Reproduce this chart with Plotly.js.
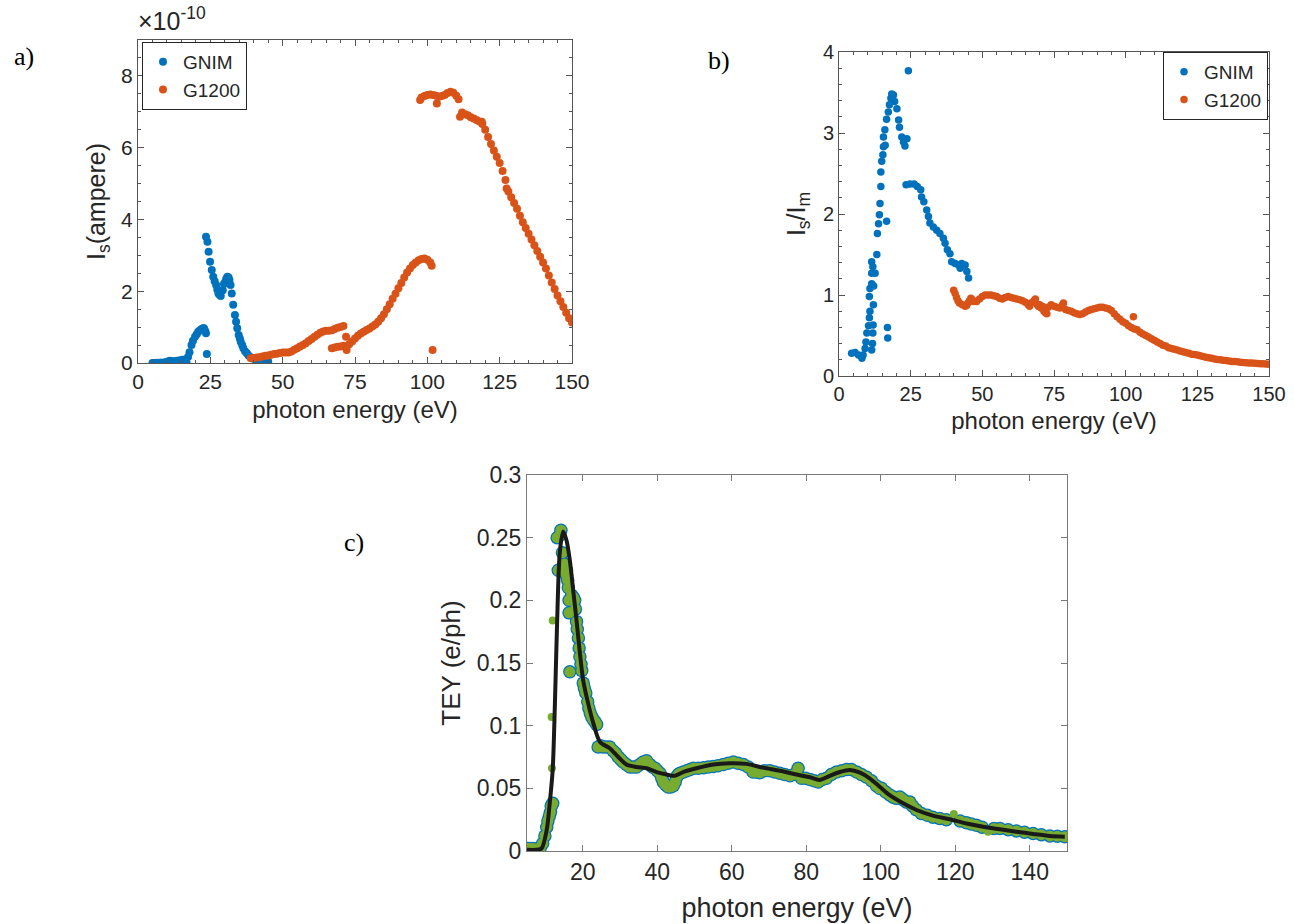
<!DOCTYPE html>
<html><head><meta charset="utf-8">
<script src="https://cdn.plot.ly/plotly-3.0.1.min.js"></script>
<style>html,body{margin:0;padding:0;background:#fff;} #chart{width:1294px;height:924px;}</style>
</head><body><div id="chart"></div>
<script>
// ---------- Panel a: I_s (x 1e-10 A) vs photon energy ----------
const a_gnim_x = [5,5.5,6,6.5,7,7.5,8,8.5,9,9.5,10,10.5,11,11.5,12,12.5,13,13.5,14,14.5,15,15.5,16,16.5,16.8,
  17.3,17.8,18.5,19,19.7,20.3,20.8,21.4,22,22.5,22.8,23.2,23.5,23.8,
  23.5,24,24.4,24.9,25.5,26,26.5,27,27.4,27.8,28.2,28.6,29.3,29.7,30.1,30.5,30.9,31.3,31.6,32,32.4,32.9,
  33.5,33.9,34.3,34.8,35.2,35.5,36,36.4,37,37.6,38.2,38.9,39.6,40.4,41.2,42.2,43,43.9,45];
const a_gnim_y = [0.0,0.0,0.0,0.01,0.0,0.01,0.01,0.01,0.01,0.02,0.03,0.04,0.06,0.05,0.04,0.04,0.05,0.06,0.06,0.07,0.08,0.09,0.09,0.06,0.0,
  0.17,0.3,0.5,0.62,0.73,0.8,0.87,0.91,0.95,0.97,0.97,0.9,0.83,0.25,
  3.52,3.38,3.1,2.82,2.59,2.4,2.28,2.17,2.05,1.94,1.9,1.87,2.03,2.2,2.26,2.35,2.4,2.38,2.31,2.17,1.94,1.62,
  1.34,1.15,0.97,0.78,0.68,0.59,0.5,0.41,0.33,0.27,0.21,0.16,0.13,0.1,0.08,0.06,0.05,0.04,0.04];

const a_g1200_x = [39,40,41,42,43,44,45,46,47,48,49,50,51,52,53,54,55,56,57,58,59,60,61,62,63,64,65,66,67,68,69,70,71,
  67,68,69,70,71,71.9,72.1,73,74,75,76,77,78,79,80,81,82,83,84,85,86,87,88,89,90,91,92,93,94,95,96,97,98,99,100,101,101.5,
  101.8,
  97.5,98,99,100,101,102,103,103.3,104,105,106,107,108,109,110,110.8,111.3,112,113,114,115,116,117,118,118.8,119,120,121,122,123,124,125,126,127,127.4,128,129,130,131,132,133,134,135,136,137,138,139,140,141,142,143,144,145,146,147,148,149,150];
const a_g1200_y = [0.13,0.14,0.15,0.16,0.18,0.2,0.21,0.23,0.25,0.26,0.28,0.29,0.29,0.29,0.32,0.37,0.41,0.46,0.5,0.55,0.61,0.67,0.73,0.79,0.84,0.88,0.9,0.9,0.91,0.95,0.98,1.0,1.03,
  0.41,0.43,0.45,0.46,0.48,0.73,0.36,0.52,0.6,0.68,0.76,0.82,0.87,0.92,0.96,1.02,1.07,1.15,1.25,1.36,1.5,1.64,1.79,1.93,2.08,2.23,2.38,2.52,2.63,2.73,2.8,2.86,2.9,2.91,2.88,2.8,2.71,
  0.36,
  7.33,7.4,7.44,7.47,7.48,7.47,7.45,7.23,7.42,7.44,7.47,7.52,7.56,7.53,7.45,7.35,6.86,6.98,6.93,6.9,6.85,6.81,6.77,6.73,6.72,6.66,6.5,6.3,6.1,5.92,5.75,5.57,5.35,5.1,4.86,4.78,4.62,4.46,4.3,4.1,3.92,3.76,3.6,3.44,3.28,3.12,2.96,2.8,2.63,2.44,2.24,2.06,1.88,1.72,1.56,1.4,1.25,1.13];

// ---------- Panel b: I_s / I_m ----------
const b_gnim_x = [4.4,5.6,6.8,8,8.4,9.1,9.4,9.7,10.3,10.6,10.8,11.4,11.7,11.8,11.9,12,10.6,10.8,11.4,11.4,11.8,11.4,12.1,12.6,
  13.2,13.4,13.8,14.1,14.3,14.6,14.6,14.9,15.3,15.5,16.1,15.5,16,16.6,17.2,17.6,18.1,18.4,19,19.4,20.2,20.8,21.1,21.9,22.5,23,23.7,
  16.6,16.9,17,24.2,
  23.4,24.8,26.2,27.3,28.5,28.8,29.6,30.6,31.2,31.7,32.9,34.1,35.2,36.4,37,37.8,38.7,39.3,40.5,41.7,42.3,42.8,44,44.6,45.2];
const b_gnim_y = [0.28,0.29,0.26,0.22,0.26,0.34,0.42,0.53,0.62,0.72,0.8,0.32,0.4,0.53,0.63,0.88,0.98,1.08,1.14,1.27,1.35,1.41,1.11,1.27,
  1.5,1.76,1.88,1.99,2.13,2.34,2.52,2.65,2.73,2.83,2.85,2.95,3.04,3.17,3.26,3.35,3.43,3.48,3.47,3.39,3.3,3.16,3.07,2.95,2.89,2.84,2.93,
  1.91,0.6,0.47,3.77,
  2.36,2.37,2.37,2.34,2.3,2.21,2.15,2.05,1.97,1.89,1.84,1.8,1.76,1.7,1.64,1.56,1.51,1.41,1.39,1.37,1.33,1.39,1.37,1.29,1.21];

const b_g1200_x = [40,40.5,41,41.5,42,43,44,44.5,45,45.5,46,46.5,47,48,49,50,51,52,53,54,55,56,57,58,59,60,61,62,63,64,65,66,66.5,67,68,68.5,69,69.5,70,70.5,71,71.5,72,72.5,73,74,75,76,77,78,78.3,79,80,81,82,83,84,85,86,87,88,89,90,91,92,93,94,95,96,97,98,99,100,101,102,102.7,103,104,105,106,107,108,109,110,111,112,113,114,115,116,117,118,119,120,121,122,123,124,125,126,127,128,129,130,131,132,133,134,135,136,137,138,139,140,141,142,143,144,145,146,147,148,149,150];
const b_g1200_y = [1.06,1.02,0.97,0.93,0.9,0.88,0.86,0.87,0.9,0.93,0.96,0.94,0.92,0.92,0.95,0.98,1.0,1.0,1.0,0.99,0.98,0.96,0.95,0.97,0.98,0.97,0.96,0.95,0.94,0.93,0.91,0.88,0.86,0.9,0.93,0.95,0.89,0.86,0.88,0.84,0.86,0.8,0.78,0.77,0.85,0.88,0.86,0.85,0.84,0.88,0.9,0.82,0.81,0.8,0.78,0.77,0.76,0.77,0.79,0.81,0.82,0.83,0.84,0.85,0.85,0.84,0.83,0.81,0.77,0.73,0.7,0.67,0.65,0.62,0.6,0.73,0.58,0.57,0.54,0.52,0.5,0.48,0.46,0.44,0.42,0.4,0.38,0.37,0.35,0.34,0.33,0.32,0.31,0.3,0.29,0.28,0.27,0.265,0.26,0.25,0.24,0.23,0.225,0.22,0.21,0.205,0.2,0.195,0.19,0.185,0.18,0.18,0.175,0.17,0.168,0.165,0.162,0.16,0.158,0.155,0.152,0.15,0.148,0.146];

// ---------- Panel c: TEY (e/ph) ----------
const c_x = [4.4,5.2,5.8,6.5,7.2,7.9,8.5,9.2,9.8,10.3,10.6,11.0,11.3,11.5,11.9,13.1,13.4,13.8,14.1,14.5,14.7,15.0,15.3,15.6,15.6,15.9,16.1,16.3,16.3,16.5,17.0,17.5,17.8,18.0,18.3,18.5,18.8,19.0,19.2,19.5,19.7,20.1,20.4,20.8,21.3,21.6,22.0,22.4,22.8,23.3,23.7,
  24.1,24.7,25.4,26.3,27.2,28.1,28.8,29.5,30.2,30.8,31.7,32.6,33.5,34.4,35.3,36.2,37.1,38.0,38.7,39.4,40.0,40.7,41.2,41.6,42.2,42.9,43.6,44.3,44.8,45.2,45.6,46.1,47.0,47.9,48.8,49.7,51.0,52.4,53.7,55.0,56.3,57.7,59.0,60.4,61.7,63.1,64.4,65.7,66.6,67.5,68.8,70.2,71.5,72.9,74.2,75.6,76.7,77.8,78.7,79.8,81.0,82.1,83.2,84.3,85.4,86.7,88.1,89.5,90.8,92.1,93.5,94.8,96.1,97.5,98.8,99.7,100.2,101.3,102.4,103.3,104.2,105.1,106.0,106.9,107.8,108.5,109.5,110.9,112.5,114.0,115.8,117.6,121.3,123.0,124.3,125.7,127.2,130.4,132.0,134.2,136.4,138.6,140.9,143.1,145.4,147.4,149.4];
const c_y = [0.002,0.002,0.002,0.002,0.001,0.002,0.002,0.006,0.012,0.019,0.024,0.028,0.031,0.036,0.038,0.25,0.224,0.252,0.256,0.238,0.227,0.229,0.226,0.224,0.22,0.216,0.21,0.2,0.19,0.143,0.204,0.202,0.2,0.193,0.183,0.177,0.17,0.162,0.155,0.149,0.144,0.134,0.13,0.126,0.119,0.114,0.11,0.107,0.105,0.103,0.101,
  0.083,0.084,0.083,0.083,0.083,0.08,0.078,0.075,0.073,0.071,0.069,0.067,0.067,0.067,0.069,0.071,0.072,0.069,0.067,0.066,0.064,0.062,0.058,0.055,0.053,0.051,0.051,0.052,0.055,0.059,0.061,0.062,0.063,0.064,0.065,0.066,0.066,0.0665,0.067,0.0675,0.068,0.069,0.070,0.071,0.070,0.069,0.067,0.063,0.063,0.0625,0.064,0.064,0.063,0.062,0.061,0.060,0.061,0.066,0.058,0.058,0.057,0.056,0.055,0.057,0.058,0.061,0.063,0.064,0.065,0.065,0.063,0.061,0.059,0.056,0.052,0.05,0.05,0.047,0.0447,0.043,0.042,0.043,0.041,0.039,0.039,0.036,0.033,0.030,0.0285,0.027,0.026,0.025,0.024,0.0225,0.0215,0.0205,0.019,0.018,0.018,0.017,0.016,0.015,0.014,0.013,0.012,0.0118,0.0114];
// isolated green points (no blue underlay)
const c_out_x = [11.7,11.6,11.9,119.6,128.8];
const c_out_y = [0.066,0.107,0.184,0.0295,0.0154];

const fit_x = [4.9,7.6,8.9,10.3,11.1,11.9,12.5,13.1,13.8,14.7,15.6,16.5,17.4,18.3,19.2,20.1,21.4,22.8,24.6,27.2,29.5,31.7,34.4,37.1,39.8,42.5,44.7,46.9,50.5,55,59.5,63.9,68.4,72.9,77.4,81,83.6,86.3,89,91.7,94.4,97,99.7,102.4,106,109.6,114,118.5,123,127.5,132,136.4,140.9,145.4,149.4];
const fit_y = [0.001,0.001,0.002,0.017,0.038,0.065,0.118,0.184,0.238,0.255,0.248,0.232,0.208,0.184,0.158,0.136,0.118,0.102,0.087,0.082,0.075,0.069,0.067,0.066,0.063,0.061,0.060,0.063,0.066,0.069,0.07,0.0695,0.0665,0.064,0.061,0.0588,0.0567,0.060,0.063,0.0646,0.0625,0.058,0.0513,0.0445,0.038,0.0327,0.0282,0.0253,0.022,0.0194,0.0173,0.0154,0.0136,0.012,0.0114];

const seriesNames = ['GNIM','G1200'];
const xTitle = 'photon energy (eV)';

// ---------- layout helpers ----------
const W = 1294, H = 924;
const px = v => v / W;
const py = v => 1 - v / H;
const FONT = 'Liberation Sans, Arial, Helvetica, sans-serif';
const INK = '#262626';
const BLUE = '#0072BD', ORANGE = '#D95319', GREEN = '#77AC30';

function ax(extra) {
  return Object.assign({
    showgrid: false, zeroline: false, showline: true, linecolor: '#555', linewidth: 1,
    mirror: 'allticks', ticks: 'inside', ticklen: 6, tickcolor: '#555', tickwidth: 1,
    tickfont: {family: FONT, size: 21, color: INK}, fixedrange: true
  }, extra);
}
const minorT = d => ({dtick: d, ticks: 'inside', ticklen: 3, tickcolor: '#555', tickwidth: 1});
const mk = (c, s) => ({color: c, size: s});

const data = [
  {type: 'scatter', mode: 'markers', name: seriesNames[0], x: a_gnim_x, y: a_gnim_y, xaxis: 'x', yaxis: 'y', marker: mk(BLUE, 8), legend: 'legend'},
  {type: 'scatter', mode: 'markers', name: seriesNames[1], x: a_g1200_x, y: a_g1200_y, xaxis: 'x', yaxis: 'y', marker: mk(ORANGE, 8), legend: 'legend'},
  {type: 'scatter', mode: 'markers', name: seriesNames[0], x: b_gnim_x, y: b_gnim_y, xaxis: 'x2', yaxis: 'y2', marker: mk(BLUE, 7.5), legend: 'legend2'},
  {type: 'scatter', mode: 'markers', name: seriesNames[1], x: b_g1200_x, y: b_g1200_y, xaxis: 'x2', yaxis: 'y2', marker: mk(ORANGE, 7.5), legend: 'legend2'},
  {type: 'scatter', mode: 'markers', name: 'TEY data (outline)', x: c_x, y: c_y, xaxis: 'x3', yaxis: 'y3', showlegend: false,
   marker: {color: BLUE, size: 13.5}},
  {type: 'scatter', mode: 'markers', name: 'TEY data', x: c_x, y: c_y, xaxis: 'x3', yaxis: 'y3', showlegend: false,
   marker: {color: GREEN, size: 11}},
  {type: 'scatter', mode: 'markers', name: 'TEY data 2', x: c_out_x, y: c_out_y, xaxis: 'x3', yaxis: 'y3', showlegend: false,
   marker: {color: GREEN, size: 8}},
  {type: 'scatter', mode: 'lines', name: 'fit', x: fit_x, y: fit_y, xaxis: 'x3', yaxis: 'y3', showlegend: false,
   line: {color: '#1a1a1a', width: 4, shape: 'spline', smoothing: 0.8}}
];

const titleFont = s => ({family: FONT, size: s, color: INK});
const legendCommon = {bgcolor: '#fff', bordercolor: INK, borderwidth: 1, font: {family: FONT, size: 19, color: INK}, tracegroupgap: 0, itemwidth: 30};

const layout = {
  width: W, height: H, margin: {l: 0, r: 0, t: 0, b: 0}, paper_bgcolor: '#fff', plot_bgcolor: '#fff',
  xaxis: ax({domain: [px(138), px(572)], anchor: 'y', range: [0, 150], tick0: 0, dtick: 25, minor: minorT(5),
    title: {text: xTitle, font: titleFont(24), standoff: 8}}),
  yaxis: ax({domain: [py(363), py(40)], anchor: 'x', range: [0, 9], tick0: 0, dtick: 2, minor: minorT(0.5),
    title: {text: 'I<sub>s</sub>(ampere)', font: titleFont(25), standoff: 8}}),
  xaxis2: ax({domain: [px(839), px(1269)], anchor: 'y2', range: [0, 150], tick0: 0, dtick: 25, minor: minorT(5),
    tickfont: {family: FONT, size: 20, color: INK},
    title: {text: xTitle, font: titleFont(24), standoff: 8}}),
  yaxis2: ax({domain: [py(376), py(52)], anchor: 'x2', range: [0, 4], tick0: 0, dtick: 1, minor: minorT(0.2),
    tickfont: {family: FONT, size: 20, color: INK},
    title: {text: 'I<sub>s</sub>/I<sub>m</sub>', font: titleFont(25), standoff: 10}}),
  xaxis3: ax({domain: [px(527), px(1067)], anchor: 'y3', range: [5, 150], tick0: 0, dtick: 20, mirror: 'ticks',
    linecolor: '#7a7a7a', tickcolor: '#7a7a7a',
    tickfont: {family: FONT, size: 23, color: INK},
    title: {text: xTitle, font: titleFont(27), standoff: 14}}),
  yaxis3: ax({domain: [py(851), py(475)], anchor: 'x3', range: [0, 0.3], tick0: 0, dtick: 0.05, mirror: 'ticks',
    linecolor: '#7a7a7a', tickcolor: '#7a7a7a',
    tickfont: {family: FONT, size: 23, color: INK},
    title: {text: 'TEY (e/ph)', font: titleFont(26), standoff: 8}}),
  legend: Object.assign({x: px(142), y: py(42), xanchor: 'left', yanchor: 'top'}, legendCommon),
  legend2: Object.assign({x: px(1268), y: py(52), xanchor: 'right', yanchor: 'top'}, legendCommon),
  annotations: [
    {xref: 'paper', yref: 'paper', x: px(12), y: py(57), xanchor: 'left', yanchor: 'middle', showarrow: false,
     text: 'a)', font: {family: 'Liberation Serif, Times New Roman, serif', size: 26, color: '#000'}},
    {xref: 'paper', yref: 'paper', x: px(706), y: py(61), xanchor: 'left', yanchor: 'middle', showarrow: false,
     text: 'b)', font: {family: 'Liberation Serif, Times New Roman, serif', size: 26, color: '#000'}},
    {xref: 'paper', yref: 'paper', x: px(342), y: py(542), xanchor: 'left', yanchor: 'middle', showarrow: false,
     text: 'c)', font: {family: 'Liberation Serif, Times New Roman, serif', size: 26, color: '#000'}},
    {xref: 'paper', yref: 'paper', x: px(136), y: py(37), xanchor: 'left', yanchor: 'bottom', showarrow: false,
     text: '×10<sup>-10</sup>', font: {family: FONT, size: 25, color: INK}}
  ]
};

Plotly.newPlot('chart', data, layout, {displayModeBar: false, staticPlot: true});
</script></body></html>
